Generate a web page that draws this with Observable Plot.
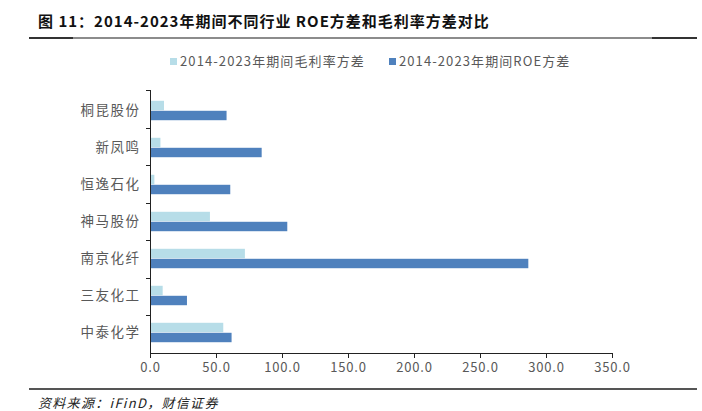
<!DOCTYPE html>
<html><head><meta charset="utf-8">
<script src="https://cdn.jsdelivr.net/npm/d3@7"></script>
<script src="https://cdn.jsdelivr.net/npm/@observablehq/plot@0.6"></script>
<style>
body{margin:0;background:#fff;width:702px;height:411px;position:relative;overflow:hidden;font-family:"Noto Sans CJK SC","Noto Sans",sans-serif;}
.abs{position:absolute;white-space:nowrap;}
#title{left:38px;top:11px;font-size:15px;line-height:20px;font-weight:bold;color:#111;letter-spacing:1px;}
.hl{position:absolute;height:2px;}
#legend{top:51px;left:170px;font-size:13px;color:#595959;letter-spacing:1.1px;}
#legend span.sw{display:inline-block;width:7px;height:7px;margin-right:3px;vertical-align:1px;}
#src{left:38px;top:395px;font-size:13px;line-height:15px;font-style:italic;color:#222;letter-spacing:1.3px;}
#chart{position:absolute;left:0;top:75px;}
</style></head>
<body>
<div id="title" class="abs">图 11：2014-2023年期间不同行业 ROE方差和毛利率方差对比</div>
<div class="hl" style="left:29px;top:37px;width:668px;background:#8c8c8c"></div>
<div class="hl" style="left:29px;top:37px;width:44px;background:#333"></div>
<div class="hl" style="left:652px;top:37px;width:45px;background:#333"></div>
<div id="legend" class="abs"></div>
<div id="chart"></div>
<div class="hl" style="left:29px;top:388px;width:668px;background:#555"></div>
<div id="src" class="abs">资料来源：iFinD，财信证券</div>
<script>
const categories = ["桐昆股份","新凤鸣","恒逸石化","神马股份","南京化纤","三友化工","中泰化学"];
const grossMarginVar = [10.6, 7.9, 3.3, 45.4, 71.9, 9.6, 55.5];
const roeVar = [58.0, 84.6, 60.8, 104.0, 286.6, 28.0, 61.8];
const seriesNames = ["2014-2023年期间毛利率方差","2014-2023年期间ROE方差"];
const colors = ["#b7dde8","#4f81bd"];
const xTicks = [0,50,100,150,200,250,300,350];

const legend = document.getElementById("legend");
legend.innerHTML = seriesNames.map((s,i)=>`<span class="sw" style="background:${colors[i]}"></span>${s}`).join('<span style="display:inline-block;width:24px"></span>');

const W = 702, H = 300, mT = 15, mB = 22, mL = 150, mR = 90;
const step = (H - mT - mB) / categories.length;
const barH = 10;
const gm = categories.map((c,i)=>({cat:c, v:grossMarginVar[i]}));
const roe = categories.map((c,i)=>({cat:c, v:roeVar[i]}));

function axes(index, scales, values, dim) {
  const g = d3.create("svg:g").attr("stroke", "#222").attr("stroke-width", 1).attr("fill", "none");
  const x0 = scales.x(0);
  const bottom = dim.height - dim.marginBottom;
  g.append("line").attr("x1", x0 + 0.5).attr("x2", x0 + 0.5).attr("y1", dim.marginTop).attr("y2", bottom + 4);
  g.append("line").attr("x1", x0).attr("x2", scales.x(xTicks[xTicks.length-1]) + 0.5).attr("y1", bottom + 0.5).attr("y2", bottom + 0.5);
  for (let i = 0; i < categories.length; i++) {
    const y = Math.round(dim.marginTop + i * step) + 0.5;
    g.append("line").attr("x1", x0 - 4).attr("x2", x0).attr("y1", y).attr("y2", y);
  }
  for (const t of xTicks) {
    const x = Math.round(scales.x(t)) + 0.5;
    g.append("line").attr("x1", x).attr("x2", x).attr("y1", bottom).attr("y2", bottom + 5);
  }
  return g.node();
}

const plot = Plot.plot({
  width: W, height: H,
  marginTop: mT, marginBottom: mB, marginLeft: mL, marginRight: mR,
  style: {fontFamily: '"Noto Sans CJK SC","Noto Sans",sans-serif', fontSize: "13px", color: "#595959", background: "#fff"},
  x: {domain: [0, 350], ticks: xTicks, tickFormat: d3.format(".1f"), tickSize: 0, tickPadding: 9, label: null},
  y: {domain: categories, padding: 0, tickSize: 0, tickPadding: 10, label: null},
  marks: [
    Plot.barX(gm, {y: "cat", x: "v", fill: colors[0], insetTop: step/2 - barH, insetBottom: step/2}),
    Plot.barX(roe, {y: "cat", x: "v", fill: colors[1], insetTop: step/2, insetBottom: step/2 - barH}),
    axes
  ]
});
plot.querySelectorAll("text").forEach(t => t.setAttribute("letter-spacing", "0.8"));
plot.querySelectorAll("[aria-label='y-axis tick label'] text, g[aria-label='y-axis'] text").forEach(t => { t.setAttribute("letter-spacing", "1.5"); t.setAttribute("font-size", "13.5"); });
document.getElementById("chart").appendChild(plot);
</script>
</body></html>
